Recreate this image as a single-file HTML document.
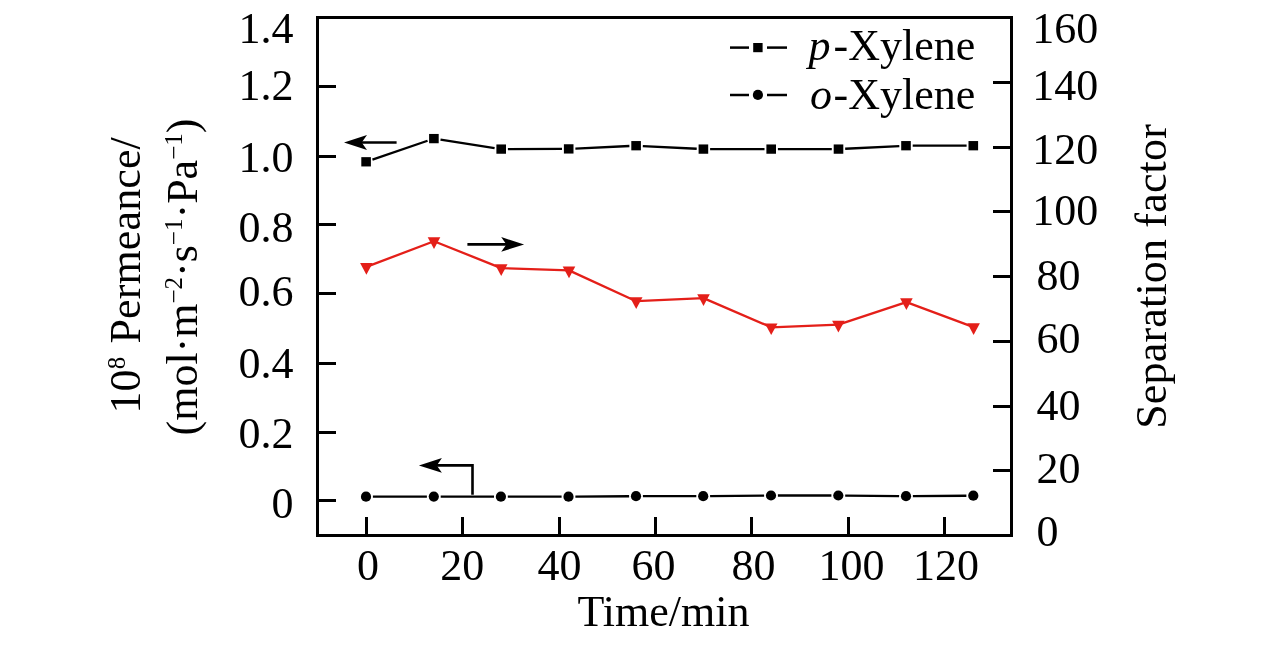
<!DOCTYPE html><html><head><meta charset="utf-8"><style>html,body{margin:0;padding:0;background:#fff;overflow:hidden;width:1283px;height:646px;}svg{display:block;will-change:transform;}text{font-family:"Liberation Serif",serif;fill:#000;}</style></head><body>
<svg width="1283" height="646" viewBox="0 0 1283 646">
<rect x="0" y="0" width="1283" height="646" fill="#fff"/>
<rect x="317.5" y="17.5" width="694" height="518" fill="none" stroke="#000" stroke-width="3"/>
<line x1="317" y1="86.5" x2="336" y2="86.5" stroke="#000" stroke-width="3"/>
<line x1="317" y1="156.5" x2="336" y2="156.5" stroke="#000" stroke-width="3"/>
<line x1="317" y1="224.5" x2="336" y2="224.5" stroke="#000" stroke-width="3"/>
<line x1="317" y1="293.5" x2="336" y2="293.5" stroke="#000" stroke-width="3"/>
<line x1="317" y1="363.5" x2="336" y2="363.5" stroke="#000" stroke-width="3"/>
<line x1="317" y1="432.5" x2="336" y2="432.5" stroke="#000" stroke-width="3"/>
<line x1="317" y1="500.5" x2="336" y2="500.5" stroke="#000" stroke-width="3"/>
<line x1="993" y1="82.50" x2="1012" y2="82.50" stroke="#000" stroke-width="3"/>
<line x1="993" y1="147.50" x2="1012" y2="147.50" stroke="#000" stroke-width="3"/>
<line x1="993" y1="211.50" x2="1012" y2="211.50" stroke="#000" stroke-width="3"/>
<line x1="993" y1="276.50" x2="1012" y2="276.50" stroke="#000" stroke-width="3"/>
<line x1="993" y1="341.50" x2="1012" y2="341.50" stroke="#000" stroke-width="3"/>
<line x1="993" y1="406.50" x2="1012" y2="406.50" stroke="#000" stroke-width="3"/>
<line x1="993" y1="470.50" x2="1012" y2="470.50" stroke="#000" stroke-width="3"/>
<line x1="366.50" y1="517" x2="366.50" y2="536" stroke="#000" stroke-width="3"/>
<line x1="462.50" y1="517" x2="462.50" y2="536" stroke="#000" stroke-width="3"/>
<line x1="559.50" y1="517" x2="559.50" y2="536" stroke="#000" stroke-width="3"/>
<line x1="655.50" y1="517" x2="655.50" y2="536" stroke="#000" stroke-width="3"/>
<line x1="751.50" y1="517" x2="751.50" y2="536" stroke="#000" stroke-width="3"/>
<line x1="848.50" y1="517" x2="848.50" y2="536" stroke="#000" stroke-width="3"/>
<line x1="944.50" y1="517" x2="944.50" y2="536" stroke="#000" stroke-width="3"/>
<text x="293.5" y="43" font-size="44" text-anchor="end">1.4</text>
<text x="293.5" y="100.1" font-size="44" text-anchor="end">1.2</text>
<text x="293.5" y="172" font-size="44" text-anchor="end">1.0</text>
<text x="293.5" y="241.5" font-size="44" text-anchor="end">0.8</text>
<text x="293.5" y="305.5" font-size="44" text-anchor="end">0.6</text>
<text x="293.5" y="377.9" font-size="44" text-anchor="end">0.4</text>
<text x="293.5" y="447.6" font-size="44" text-anchor="end">0.2</text>
<text x="293.5" y="518.3" font-size="44" text-anchor="end">0</text>
<text x="1032.3" y="42.9" font-size="44">160</text>
<text x="1032.3" y="100" font-size="44">140</text>
<text x="1032.3" y="163.9" font-size="44">120</text>
<text x="1032.3" y="224.8" font-size="44">100</text>
<text x="1036.5" y="290.2" font-size="44">80</text>
<text x="1036.5" y="353.3" font-size="44">60</text>
<text x="1036.5" y="419.7" font-size="44">40</text>
<text x="1036.5" y="482.7" font-size="44">20</text>
<text x="1036.5" y="546.4" font-size="44">0</text>
<text x="368" y="579.7" font-size="44" text-anchor="middle">0</text>
<text x="462.3" y="579.7" font-size="44" text-anchor="middle">20</text>
<text x="559.5" y="579.7" font-size="44" text-anchor="middle">40</text>
<text x="653.4" y="579.7" font-size="44" text-anchor="middle">60</text>
<text x="753.4" y="579.7" font-size="44" text-anchor="middle">80</text>
<text x="851.4" y="579.7" font-size="44" text-anchor="middle">100</text>
<text x="945.9" y="579.7" font-size="44" text-anchor="middle">120</text>
<text x="663.5" y="625.7" font-size="44" text-anchor="middle">Time/min</text>
<text transform="translate(1165.5,276.4) rotate(-90)" font-size="44" text-anchor="middle" letter-spacing="0.18">Separation factor</text>
<text transform="translate(140,413.5) rotate(-90)" font-size="44" letter-spacing="0.12">10<tspan font-size="25" dy="-15">8</tspan><tspan dy="15" dx="2"> Permeance/</tspan></text>
<text transform="translate(197,435.5) rotate(-90)" font-size="44">(mol·m<tspan font-size="25" dy="-15.5">−2</tspan><tspan dy="15.5">·s</tspan><tspan font-size="25" dy="-15.5">−1</tspan><tspan dy="15.5">·Pa</tspan><tspan font-size="25" dy="-15.5">−1</tspan><tspan dy="15.5">)</tspan></text>
<text x="808.5" y="60" font-size="44"><tspan font-style="italic">p</tspan><tspan dx="3">-Xylene</tspan></text>
<text x="810" y="109.2" font-size="44"><tspan font-style="italic">o</tspan><tspan dx="1.5">-Xylene</tspan></text>
<line x1="730" y1="47.6" x2="749" y2="47.6" stroke="#000" stroke-width="2.5"/>
<line x1="767" y1="47.6" x2="787" y2="47.6" stroke="#000" stroke-width="2.5"/>
<line x1="730" y1="95" x2="749" y2="95" stroke="#000" stroke-width="2.5"/>
<line x1="767" y1="95" x2="787" y2="95" stroke="#000" stroke-width="2.5"/>
<rect x="753.2" y="43" width="9.4" height="9.2" fill="#000"/>
<circle cx="757.9" cy="94.9" r="5.1" fill="#000"/>
<line x1="372.44" y1="159.63" x2="427.56" y2="140.77" stroke="#000" stroke-width="2.3"/>
<line x1="440.52" y1="139.63" x2="494.58" y2="148.07" stroke="#000" stroke-width="2.3"/>
<line x1="507.90" y1="149.08" x2="562.00" y2="148.92" stroke="#000" stroke-width="2.3"/>
<line x1="575.39" y1="148.58" x2="629.41" y2="146.02" stroke="#000" stroke-width="2.3"/>
<line x1="642.79" y1="146.04" x2="696.71" y2="148.76" stroke="#000" stroke-width="2.3"/>
<line x1="710.10" y1="149.10" x2="764.50" y2="149.10" stroke="#000" stroke-width="2.3"/>
<line x1="777.90" y1="149.10" x2="831.80" y2="149.10" stroke="#000" stroke-width="2.3"/>
<line x1="845.19" y1="148.76" x2="899.31" y2="146.04" stroke="#000" stroke-width="2.3"/>
<line x1="912.70" y1="145.70" x2="966.60" y2="145.70" stroke="#000" stroke-width="2.3"/>
<rect x="361.30" y="157.15" width="9.6" height="9.3" fill="#000"/>
<rect x="429.10" y="133.95" width="9.6" height="9.3" fill="#000"/>
<rect x="496.40" y="144.45" width="9.6" height="9.3" fill="#000"/>
<rect x="563.90" y="144.25" width="9.6" height="9.3" fill="#000"/>
<rect x="631.30" y="141.05" width="9.6" height="9.3" fill="#000"/>
<rect x="698.60" y="144.45" width="9.6" height="9.3" fill="#000"/>
<rect x="766.40" y="144.45" width="9.6" height="9.3" fill="#000"/>
<rect x="833.70" y="144.45" width="9.6" height="9.3" fill="#000"/>
<rect x="901.20" y="141.05" width="9.6" height="9.3" fill="#000"/>
<rect x="968.50" y="141.05" width="9.6" height="9.3" fill="#000"/>
<line x1="372.90" y1="496.69" x2="426.90" y2="496.61" stroke="#000" stroke-width="2.3"/>
<line x1="440.70" y1="496.61" x2="494.00" y2="496.69" stroke="#000" stroke-width="2.3"/>
<line x1="507.80" y1="496.70" x2="561.60" y2="496.70" stroke="#000" stroke-width="2.3"/>
<line x1="575.40" y1="496.65" x2="629.10" y2="496.25" stroke="#000" stroke-width="2.3"/>
<line x1="642.90" y1="496.20" x2="696.30" y2="496.20" stroke="#000" stroke-width="2.3"/>
<line x1="710.10" y1="496.13" x2="764.10" y2="495.57" stroke="#000" stroke-width="2.3"/>
<line x1="777.90" y1="495.50" x2="831.40" y2="495.50" stroke="#000" stroke-width="2.3"/>
<line x1="845.20" y1="495.57" x2="899.10" y2="496.13" stroke="#000" stroke-width="2.3"/>
<line x1="912.90" y1="496.15" x2="966.40" y2="495.75" stroke="#000" stroke-width="2.3"/>
<circle cx="366" cy="496.7" r="5.1" fill="#000"/>
<circle cx="433.8" cy="496.6" r="5.1" fill="#000"/>
<circle cx="500.9" cy="496.7" r="5.1" fill="#000"/>
<circle cx="568.5" cy="496.7" r="5.1" fill="#000"/>
<circle cx="636" cy="496.2" r="5.1" fill="#000"/>
<circle cx="703.2" cy="496.2" r="5.1" fill="#000"/>
<circle cx="771" cy="495.5" r="5.1" fill="#000"/>
<circle cx="838.3" cy="495.5" r="5.1" fill="#000"/>
<circle cx="906" cy="496.2" r="5.1" fill="#000"/>
<circle cx="973.3" cy="495.7" r="5.1" fill="#000"/>
<polyline points="366.4,266.9 434.0,241.2 501.2,268.1 569.0,270.4 636.2,301.2 703.5,298.1 771.2,327.3 838.4,324.7 906.4,302.2 973.6,327.1" fill="none" stroke="#e41f19" stroke-width="2.3" stroke-linejoin="round"/>
<polygon points="360.10,263.00 372.70,263.00 366.40,274.70" fill="#e41f19"/>
<polygon points="427.70,237.30 440.30,237.30 434.00,249.00" fill="#e41f19"/>
<polygon points="494.90,264.20 507.50,264.20 501.20,275.90" fill="#e41f19"/>
<polygon points="562.70,266.50 575.30,266.50 569.00,278.20" fill="#e41f19"/>
<polygon points="629.90,297.30 642.50,297.30 636.20,309.00" fill="#e41f19"/>
<polygon points="697.20,294.20 709.80,294.20 703.50,305.90" fill="#e41f19"/>
<polygon points="764.90,323.40 777.50,323.40 771.20,335.10" fill="#e41f19"/>
<polygon points="832.10,320.80 844.70,320.80 838.40,332.50" fill="#e41f19"/>
<polygon points="900.10,298.30 912.70,298.30 906.40,310.00" fill="#e41f19"/>
<polygon points="967.30,323.20 979.90,323.20 973.60,334.90" fill="#e41f19"/>
<path d="M344,142.5 L367,135.1 L361.7,142.5 L367,149.9 Z" fill="#000"/>
<line x1="361" y1="142.5" x2="396.6" y2="142.5" stroke="#000" stroke-width="2.7"/>
<path d="M524.1,244.4 L501.2,237.1 L506.4,244.4 L501.2,251.7 Z" fill="#000"/>
<line x1="467.4" y1="244.4" x2="507" y2="244.4" stroke="#000" stroke-width="2.8"/>
<path d="M418.9,465.4 L441.9,458.1 L436.8,465.4 L441.9,472.8 Z" fill="#000"/>
<polyline points="436,465.4 472.5,465.4 472.5,494.7" fill="none" stroke="#000" stroke-width="2.6"/>
</svg></body></html>
